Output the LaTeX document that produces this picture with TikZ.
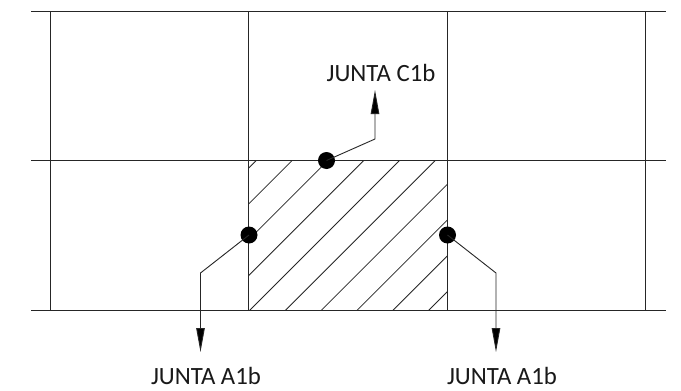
\documentclass[tikz,border=0pt]{standalone}
\usepackage{fontspec}
\setmainfont{Carlito}
\usetikzlibrary{arrows.meta}
\tikzset{
  x=1pt,y=-1pt,
  grid/.style={line width=1pt,black!85},
  hatch/.style={line width=0.8pt,black!85},
  joint/.style={circle,fill=black,inner sep=0pt,minimum size=17pt},
  leader/.style={line width=0.9pt,black!85,-{Triangle[length=24pt,width=8.5pt,fill=black]}},
  lbl/.style={font=\fontsize{24.8}{28}\selectfont,text=black!90,inner sep=0pt}
}
\begin{document}
\begin{tikzpicture}
\useasboundingbox (0,0) rectangle (681,391);
\fill[white] (0,0) rectangle (681,391);
% hatching
\begin{scope}
\clip (249,160.5) rectangle (447.5,310.5);
\foreach \k in {-4,...,5}{
  \pgfmathsetmacro{\s}{560+35.8*\k}
  \draw[hatch] (\s-310.5,310.5) -- (\s-160.5,160.5);
}
\end{scope}
% grid
\foreach \yy in {11,160.5,310.5}{
  \draw[grid] (31,\yy) -- (666,\yy);
}
\foreach \xx in {50.5,248.8,447.5,645.8}{
  \draw[grid] (\xx,11) -- (\xx,310.5);
}
% joints
\node[joint] (jc) at (326.5,160.5) {};
\node[joint] (jl) at (249,235) {};
\node[joint] (jr) at (447.5,235) {};
\coordinate (bc) at (375,139);
\coordinate (bl) at (200.5,273);
\coordinate (br) at (496,273);
\node[lbl] (tc) at (381,73) {JUNTA C1b};
\node[lbl] (tl) at (206,376) {JUNTA A1b};
\node[lbl] (tr) at (502,376) {JUNTA A1b};
\coordinate (ec) at (375,90);
\coordinate (el) at (200.5,352);
\coordinate (er) at (496,352);
\draw[leader] (jc.center) -- (bc) -- (ec);
\draw[leader] (jl.center) -- (bl) -- (el);
\draw[leader] (jr.center) -- (br) -- (er);
\end{tikzpicture}
\end{document}
